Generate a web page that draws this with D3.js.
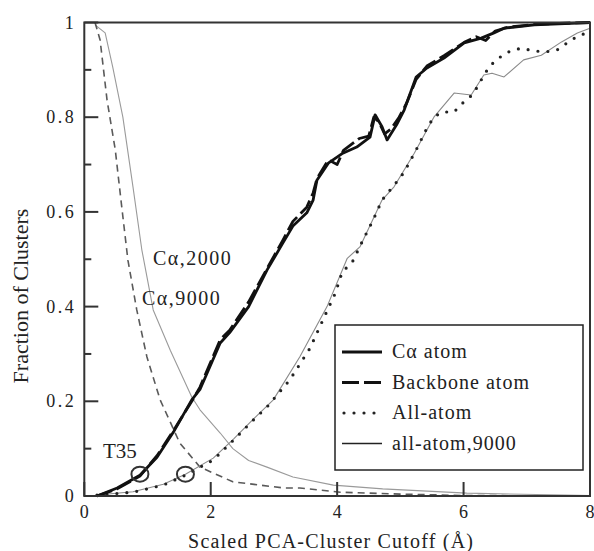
<!DOCTYPE html>
<html>
<head>
<meta charset="utf-8">
<script src="https://cdn.jsdelivr.net/npm/d3@7"></script>
</head>
<body style="margin:0">
<script>
// curves as [cutoff, fraction]
const caAtom = [[0.2,0],[0.52,0.017],[0.88,0.044],[1.15,0.082],[1.41,0.135],[1.7,0.203],[1.83,0.225],
  [2.15,0.323],[2.3,0.345],[2.6,0.40],[2.89,0.477],[3.14,0.534],[3.3,0.57],[3.52,0.598],[3.62,0.625],
  [3.68,0.667],[3.86,0.703],[4.09,0.724],[4.31,0.737],[4.52,0.758],[4.6,0.805],[4.71,0.78],[4.79,0.752],
  [4.94,0.784],[5.06,0.815],[5.25,0.885],[5.42,0.904],[5.69,0.925],[6.01,0.957],[6.28,0.967],[6.48,0.978],
  [6.64,0.988],[7.12,0.995],[7.7,0.998],[8,1]];
const backbone = [[0.2,0],[0.52,0.015],[0.88,0.042],[1.15,0.085],[1.41,0.138],[1.7,0.2],[1.83,0.23],
  [2.15,0.33],[2.3,0.35],[2.6,0.41],[2.89,0.48],[3.14,0.54],[3.3,0.58],[3.52,0.61],[3.62,0.64],[3.68,0.67],
  [3.86,0.71],[4.0,0.70],[4.1,0.73],[4.35,0.755],[4.5,0.76],[4.58,0.80],[4.66,0.79],[4.75,0.765],[4.85,0.775],
  [4.98,0.80],[5.1,0.83],[5.25,0.88],[5.42,0.908],[5.69,0.93],[6.01,0.958],[6.2,0.97],[6.35,0.962],
  [6.5,0.982],[6.7,0.99],[7.12,0.996],[7.7,0.999],[8,1]];
const allAtom = [[0.2,0.002],[0.77,0.008],[1.25,0.023],[1.6,0.044],[2.04,0.076],[2.36,0.118],[2.67,0.16],
  [2.89,0.188],[3.25,0.245],[3.57,0.312],[3.81,0.382],[3.97,0.428],[4.08,0.473],[4.24,0.494],[4.41,0.541],
  [4.57,0.583],[4.71,0.625],[4.94,0.663],[5.06,0.684],[5.25,0.731],[5.42,0.777],[5.53,0.80],[5.66,0.811],
  [5.85,0.811],[5.97,0.828],[6.12,0.845],[6.23,0.866],[6.32,0.889],[6.43,0.91],[6.58,0.927],[6.74,0.94],
  [6.92,0.946],[7.1,0.94],[7.3,0.938],[7.48,0.942],[7.64,0.957],[7.79,0.97],[7.98,0.98]];
const allAtom9000 = [[0.2,0.002],[0.77,0.009],[1.25,0.025],[1.6,0.046],[2.04,0.08],[2.36,0.12],[2.67,0.162],
  [2.99,0.203],[3.41,0.294],[3.84,0.4],[4.16,0.502],[4.36,0.526],[4.71,0.625],[4.9,0.653],[5.22,0.724],
  [5.53,0.80],[5.85,0.851],[6.12,0.847],[6.32,0.889],[6.45,0.893],[6.64,0.885],[6.95,0.921],[7.23,0.931],
  [7.55,0.959],[7.8,0.978],[8,0.988]];
const ca9000 = [[0.17,1],[0.25,0.963],[0.36,0.836],[0.49,0.731],[0.58,0.625],[0.69,0.498],[0.83,0.393],
  [0.99,0.294],[1.2,0.203],[1.51,0.112],[1.83,0.061],[2.35,0.03],[3.15,0.017],[3.41,0.017],[4.05,0.008],
  [5,0.004],[6,0.001],[8,0]];
const ca2000 = [[0.17,0.995],[0.33,0.978],[0.45,0.906],[0.61,0.80],[0.77,0.653],[0.91,0.52],[1.09,0.393],
  [1.36,0.308],[1.7,0.209],[1.83,0.182],[2.15,0.133],[2.35,0.1],[2.6,0.075],[2.89,0.061],[3.3,0.04],[3.94,0.023],
  [4.72,0.015],[6.05,0.006],[7.6,0.002],[8,0.001]];

// T35 marks
const t35 = [[0.88,0.044],[1.6,0.044]];

const xTicks = [0, 2, 4, 6, 8];
const yTicks = [0, 0.2, 0.4, 0.6, 0.8, 1];
const yMinor = [0.1, 0.3, 0.5, 0.7, 0.9];

const legendItems = ["C\u03b1 atom", "Backbone atom", "All-atom", "all-atom,9000"];

const W = 594, H = 551;
const margin = {top: 22.5, right: 4, bottom: 55, left: 84.3};

const svg = d3.select("body").append("svg")
    .attr("width", W)
    .attr("height", H);

const x = d3.scaleLinear().domain([0, 8]).range([margin.left, W - margin.right]);
const y = d3.scaleLinear().domain([0, 1]).range([H - margin.bottom, margin.top]);

const line = d3.line().x(d => x(d[0])).y(d => y(d[1]));

// serif face, same way for every label
function label(sel, size) {
    return sel.style("font-family", "'Liberation Serif'")
        .style("font-size", size + "px")
        .style("fill", "#222");
}

// series styles
const styles = [
    {data: ca2000, stroke: "#9a9a9a", width: 1.1, dash: null},
    {data: ca9000, stroke: "#5a5a5a", width: 1.6, dash: "7,5"},
    {data: allAtom9000, stroke: "#8a8a8a", width: 1.1, dash: null},
    {data: allAtom, stroke: "#222", width: 3.2, dash: "0,10", cap: "round"},
    {data: backbone, stroke: "#111", width: 2.8, dash: "16,5"},
    {data: caAtom, stroke: "#111", width: 2.8, dash: null}
];

styles.forEach(s => {
    svg.append("path")
        .datum(s.data)
        .attr("d", line)
        .attr("fill", "none")
        .attr("stroke", s.stroke)
        .attr("stroke-width", s.width)
        .attr("stroke-dasharray", s.dash)
        .attr("stroke-linecap", s.cap || "butt")
        .attr("stroke-linejoin", "round");
});

// circles on the T35 points
svg.selectAll(".t35")
    .data(t35)
    .enter().append("ellipse")
    .attr("cx", d => x(d[0]))
    .attr("cy", d => y(d[1]) - 1)
    .attr("rx", 8.5)
    .attr("ry", 7.5)
    .attr("fill", "none")
    .attr("stroke", "#333")
    .attr("stroke-width", 2);

// frame
svg.append("rect")
    .attr("x", x(0)).attr("y", y(1))
    .attr("width", x(8) - x(0)).attr("height", y(0) - y(1))
    .attr("fill", "none")
    .attr("stroke", "#333")
    .attr("stroke-width", 2);

// ticks, drawn by hand so the labels are plain text nodes
const xt = svg.append("g");
xTicks.forEach(v => {
    xt.append("line")
        .attr("x1", x(v)).attr("x2", x(v))
        .attr("y1", y(0)).attr("y2", y(0) - 14)
        .attr("stroke", "#333").attr("stroke-width", 2);
    label(xt.append("text"), 18)
        .attr("x", x(v)).attr("y", y(0) + 22)
        .attr("text-anchor", "middle")
        .text(v);
});

const yt = svg.append("g");
yTicks.forEach(v => {
    yt.append("line")
        .attr("x1", x(0)).attr("x2", x(0) + 14)
        .attr("y1", y(v)).attr("y2", y(v))
        .attr("stroke", "#333").attr("stroke-width", 2);
    label(yt.append("text"), 18)
        .attr("x", x(0) - 8).attr("y", y(v) + 6)
        .attr("text-anchor", "end")
        .style("letter-spacing", "2.5px")
        .text(v === 0 || v === 1 ? v : v.toFixed(1));
});
yMinor.forEach(v => {
    yt.append("line")
        .attr("x1", x(0)).attr("x2", x(0) + 7)
        .attr("y1", y(v)).attr("y2", y(v))
        .attr("stroke", "#333").attr("stroke-width", 2);
});

// axis titles
label(svg.append("text"), 20)
    .attr("x", (x(0) + x(8)) / 2 - 6)
    .attr("y", 548)
    .attr("text-anchor", "middle")
    .style("letter-spacing", "1.2px")
    .text("Scaled PCA-Cluster Cutoff (\u00c5)");

label(svg.append("text"), 22)
    .attr("transform", "translate(28,296) rotate(-90)")
    .attr("text-anchor", "middle")
    .text("Fraction of Clusters");

// curve annotations
label(svg.append("text"), 20).attr("x", 153).attr("y", 265)
    .style("letter-spacing", "1.5px").text("C\u03b1,2000");
label(svg.append("text"), 20).attr("x", 142).attr("y", 305)
    .style("letter-spacing", "1.5px").text("C\u03b1,9000");
label(svg.append("text"), 21).attr("x", 103).attr("y", 458)
    .text("T35");

// legend
const legend = svg.append("g");
legend.append("rect")
    .attr("x", 335).attr("y", 325)
    .attr("width", 248).attr("height", 145)
    .attr("fill", "#fff")
    .attr("stroke", "#222")
    .attr("stroke-width", 1.5);

const legendStyles = [
    {stroke: "#111", width: 3, dash: null},
    {stroke: "#111", width: 3, dash: "17,5"},
    {stroke: "#222", width: 3.2, dash: "0,10", cap: "round"},
    {stroke: "#222", width: 1.5, dash: null}
];

legendItems.forEach((name, i) => {
    const ly = 352 + i * 30.5;
    const st = legendStyles[i];
    legend.append("line")
        .attr("x1", i === 2 ? 344 : 342).attr("x2", 382)
        .attr("y1", ly).attr("y2", ly)
        .attr("stroke", st.stroke)
        .attr("stroke-width", st.width)
        .attr("stroke-dasharray", st.dash)
        .attr("stroke-linecap", st.cap || "butt");
    label(legend.append("text"), 20)
        .attr("x", 392).attr("y", ly + 6)
        .style("letter-spacing", "1px")
        .text(name);
});
</script>
</body>
</html>
